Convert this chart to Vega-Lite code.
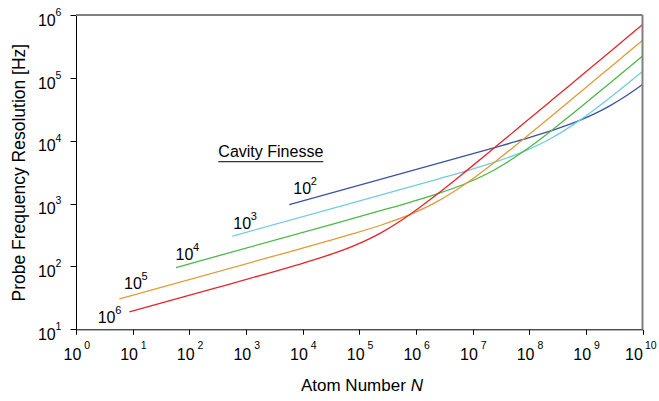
{
  "$schema": "https://vega.github.io/schema/vega-lite/v6.json",
  "autosize": "none",
  "width": 566.5,
  "height": 314.3,
  "padding": {"left": 76, "top": 15, "right": 16.5, "bottom": 71.7},
  "background": "white",
  "config": {
    "font": "Liberation Sans",
    "view": {"stroke": null},
    "axis": {"grid": false, "domainColor": "black", "tickColor": "black", "domainWidth": 1, "tickWidth": 1, "labels": false}
  },
  "datasets": {
    "curves": [
      {"F": "F2", "N": 5821, "Y": 960},
      {"F": "F2", "N": 2454700, "Y": 4352},
      {"F": "F2", "N": 24547000, "Y": 7775},
      {"F": "F2", "N": 77625000, "Y": 10478},
      {"F": "F2", "N": 245470000, "Y": 14428},
      {"F": "F2", "N": 776250000, "Y": 21049},
      {"F": "F2", "N": 2454700000, "Y": 34594},
      {"F": "F2", "N": 7762500000, "Y": 66550},
      {"F": "F2", "N": 10000000000, "Y": 78300},

      {"F": "F3", "N": 574.1, "Y": 302.6},
      {"F": "F3", "N": 245470, "Y": 1376.2},
      {"F": "F3", "N": 2454700, "Y": 2459},
      {"F": "F3", "N": 7762500, "Y": 3313.6},
      {"F": "F3", "N": 24547000, "Y": 4563},
      {"F": "F3", "N": 77625000, "Y": 6655},
      {"F": "F3", "N": 245470000, "Y": 10940},
      {"F": "F3", "N": 776250000, "Y": 21049},
      {"F": "F3", "N": 2454700000, "Y": 45629},
      {"F": "F3", "N": 7762500000, "Y": 104780},
      {"F": "F3", "N": 10000000000, "Y": 126260},

      {"F": "F4", "N": 58.21, "Y": 96.0},
      {"F": "F4", "N": 24547, "Y": 435.2},
      {"F": "F4", "N": 245470, "Y": 777.5},
      {"F": "F4", "N": 776250, "Y": 1047.8},
      {"F": "F4", "N": 2454700, "Y": 1442.8},
      {"F": "F4", "N": 7762500, "Y": 2104.9},
      {"F": "F4", "N": 24547000, "Y": 3459.4},
      {"F": "F4", "N": 77625000, "Y": 6655},
      {"F": "F4", "N": 245470000, "Y": 14428},
      {"F": "F4", "N": 776250000, "Y": 33136},
      {"F": "F4", "N": 2454700000, "Y": 77750},
      {"F": "F4", "N": 7762500000, "Y": 183770},
      {"F": "F4", "N": 10000000000, "Y": 222020},

      {"F": "F5", "N": 5.821, "Y": 30.36},
      {"F": "F5", "N": 2454.7, "Y": 137.63},
      {"F": "F5", "N": 24547, "Y": 245.9},
      {"F": "F5", "N": 77625, "Y": 331.4},
      {"F": "F5", "N": 245470, "Y": 456.3},
      {"F": "F5", "N": 776250, "Y": 665.5},
      {"F": "F5", "N": 2454700, "Y": 1094.0},
      {"F": "F5", "N": 7762500, "Y": 2104.9},
      {"F": "F5", "N": 24547000, "Y": 4563},
      {"F": "F5", "N": 77625000, "Y": 10478},
      {"F": "F5", "N": 245470000, "Y": 24589},
      {"F": "F5", "N": 776250000, "Y": 58110},
      {"F": "F5", "N": 2454700000, "Y": 137630},
      {"F": "F5", "N": 7762500000, "Y": 326250},
      {"F": "F5", "N": 10000000000, "Y": 394660},

      {"F": "F6", "N": 8.73, "Y": 18.89},
      {"F": "F6", "N": 245.47, "Y": 43.52},
      {"F": "F6", "N": 2454.7, "Y": 77.75},
      {"F": "F6", "N": 7762.5, "Y": 104.78},
      {"F": "F6", "N": 24547, "Y": 144.28},
      {"F": "F6", "N": 77625, "Y": 210.49},
      {"F": "F6", "N": 245470, "Y": 345.94},
      {"F": "F6", "N": 776250, "Y": 665.5},
      {"F": "F6", "N": 2454700, "Y": 1442.8},
      {"F": "F6", "N": 7762500, "Y": 3313.6},
      {"F": "F6", "N": 24547000, "Y": 7775},
      {"F": "F6", "N": 77625000, "Y": 18377},
      {"F": "F6", "N": 245470000, "Y": 43520},
      {"F": "F6", "N": 776250000, "Y": 103180},
      {"F": "F6", "N": 2454700000, "Y": 244630},
      {"F": "F6", "N": 7762500000, "Y": 580150},
      {"F": "F6", "N": 10000000000, "Y": 701500}
    ],
    "finesseLabels": [
      {"N": 6855, "Y": 1419, "e": "2"},
      {"N": 598, "Y": 393.6, "e": "3"},
      {"N": 57.3, "Y": 126.5, "e": "4"},
      {"N": 7.04, "Y": 43.3, "e": "5"},
      {"N": 2.41, "Y": 12.45, "e": "6"}
    ],
    "xTicks": [
      {"N": 1, "e": "0"}, {"N": 10, "e": "1"}, {"N": 100, "e": "2"},
      {"N": 1000, "e": "3"}, {"N": 10000, "e": "4"}, {"N": 100000, "e": "5"},
      {"N": 1000000, "e": "6"}, {"N": 10000000, "e": "7"}, {"N": 100000000, "e": "8"},
      {"N": 1000000000, "e": "9"}
    ],
    "yTicks": [
      {"Y": 10, "e": "1"}, {"Y": 100, "e": "2"}, {"Y": 1000, "e": "3"},
      {"Y": 10000, "e": "4"}, {"Y": 100000, "e": "5"}, {"Y": 1000000, "e": "6"}
    ],
    "one": [{}]
  },
  "layer": [
    {
      "data": {"name": "curves"},
      "mark": {"type": "line", "interpolate": "monotone", "strokeWidth": 1.3, "clip": false},
      "encoding": {
        "x": {
          "field": "N", "type": "quantitative",
          "scale": {"type": "log", "domain": [1, 10000000000], "nice": false},
          "axis": {"values": [1, 10, 100, 1000, 10000, 100000, 1000000, 10000000, 100000000, 1000000000, 10000000000], "tickSize": 5, "title": null}
        },
        "y": {
          "field": "Y", "type": "quantitative",
          "scale": {"type": "log", "domain": [10, 1000000], "nice": false},
          "axis": {"values": [10, 100, 1000, 10000, 100000, 1000000], "tickSize": 6,
                   "title": "Probe Frequency Resolution [Hz]", "titleFontSize": 17.5,
                   "titleFontWeight": "normal", "titleColor": "black", "titleFont": "Liberation Sans", "titlePadding": 41}
        },
        "color": {
          "field": "F", "type": "nominal", "legend": null,
          "scale": {"domain": ["F2", "F3", "F4", "F5", "F6"],
                    "range": ["#3953a4", "#6fcde0", "#4db848", "#e39a35", "#e2262b"]}
        }
      }
    },
    {
      "data": {"name": "one"},
      "mark": {"type": "rule", "color": "#808080", "strokeWidth": 2},
      "encoding": {"y": {"datum": 1000000}}
    },
    {
      "data": {"name": "one"},
      "mark": {"type": "rule", "color": "#808080", "strokeWidth": 2},
      "encoding": {"x": {"datum": 10000000000}}
    },
    {
      "data": {"name": "xTicks"},
      "mark": {"type": "text", "text": "10", "align": "left", "baseline": "alphabetic", "dx": -12.5, "dy": 31, "fontSize": 16, "color": "black"},
      "encoding": {"x": {"field": "N", "type": "quantitative"}, "y": {"datum": 10}}
    },
    {
      "data": {"name": "xTicks"},
      "mark": {"type": "text", "align": "left", "baseline": "alphabetic", "dx": 8.2, "dy": 20, "fontSize": 10.5, "color": "black"},
      "encoding": {"x": {"field": "N", "type": "quantitative"}, "y": {"datum": 10}, "text": {"field": "e"}}
    },
    {
      "data": {"name": "one"},
      "mark": {"type": "text", "text": "10", "align": "left", "baseline": "alphabetic", "dx": -17.4, "dy": 31, "fontSize": 16, "color": "black"},
      "encoding": {"x": {"datum": 10000000000}, "y": {"datum": 10}}
    },
    {
      "data": {"name": "one"},
      "mark": {"type": "text", "text": "10", "align": "left", "baseline": "alphabetic", "dx": 2.4, "dy": 20, "fontSize": 10.5, "color": "black"},
      "encoding": {"x": {"datum": 10000000000}, "y": {"datum": 10}}
    },
    {
      "data": {"name": "yTicks"},
      "mark": {"type": "text", "text": "10", "align": "right", "baseline": "alphabetic", "dx": -20.3, "dy": 10.7, "fontSize": 16, "color": "black"},
      "encoding": {"x": {"datum": 1}, "y": {"field": "Y", "type": "quantitative"}}
    },
    {
      "data": {"name": "yTicks"},
      "mark": {"type": "text", "align": "left", "baseline": "alphabetic", "dx": -20.5, "dy": 0.8, "fontSize": 10.5, "color": "black"},
      "encoding": {"x": {"datum": 1}, "y": {"field": "Y", "type": "quantitative"}, "text": {"field": "e"}}
    },
    {
      "data": {"name": "finesseLabels"},
      "mark": {"type": "text", "text": "10", "align": "left", "baseline": "alphabetic", "fontSize": 16, "color": "black"},
      "encoding": {"x": {"field": "N", "type": "quantitative"}, "y": {"field": "Y", "type": "quantitative"}}
    },
    {
      "data": {"name": "finesseLabels"},
      "mark": {"type": "text", "align": "left", "baseline": "alphabetic", "dx": 17.5, "dy": -9.5, "fontSize": 11, "color": "black"},
      "encoding": {"x": {"field": "N", "type": "quantitative"}, "y": {"field": "Y", "type": "quantitative"}, "text": {"field": "e"}}
    },
    {
      "data": {"name": "one"},
      "mark": {"type": "text", "text": "Cavity Finesse", "align": "center", "baseline": "alphabetic", "fontSize": 16, "color": "black"},
      "encoding": {"x": {"datum": 2747}, "y": {"datum": 5560}}
    },
    {
      "data": {"name": "one"},
      "mark": {"type": "rule", "color": "black", "strokeWidth": 1},
      "encoding": {"x": {"datum": 325}, "x2": {"datum": 23190}, "y": {"datum": 4634}}
    },
    {
      "data": {"name": "one"},
      "mark": {"type": "text", "text": "Atom Number", "align": "left", "baseline": "alphabetic", "dx": -58.3, "dy": 62, "fontSize": 17, "color": "black"},
      "encoding": {"x": {"datum": 100000}, "y": {"datum": 10}}
    },
    {
      "data": {"name": "one"},
      "mark": {"type": "text", "text": "N", "align": "left", "baseline": "alphabetic", "dx": 51.4, "dy": 62, "fontSize": 17, "fontStyle": "italic", "color": "black"},
      "encoding": {"x": {"datum": 100000}, "y": {"datum": 10}}
    }
  ]
}
